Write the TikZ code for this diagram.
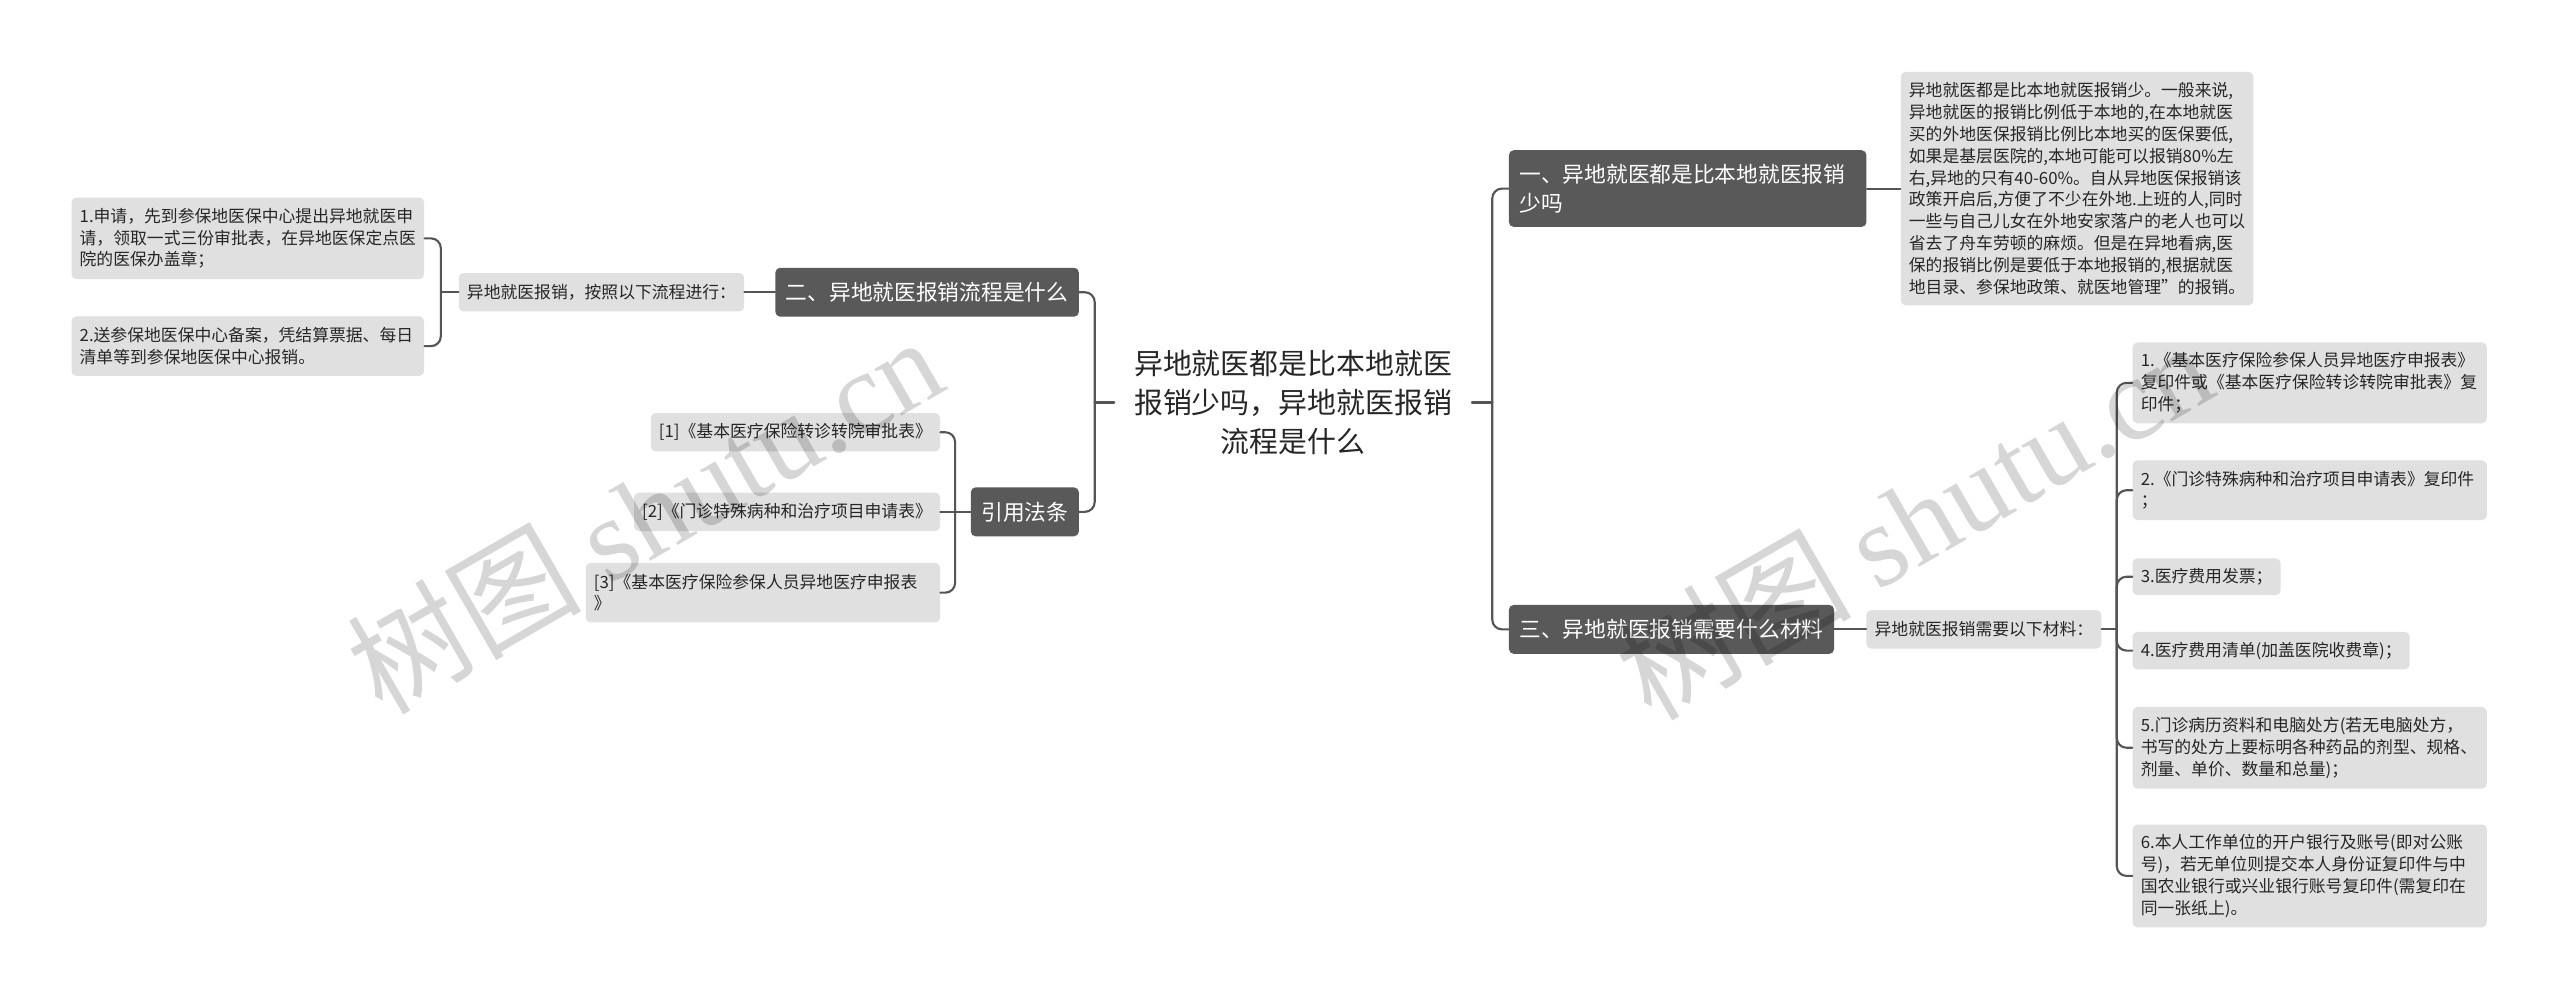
\documentclass[tikz,border=0pt]{standalone}
\usepackage{fontspec}
\setmainfont{Noto Sans CJK SC}
\newfontfamily\wmserif{Liberation Serif}
\definecolor{darkbox}{HTML}{595959}
\definecolor{lightbox}{HTML}{E0E0E0}
\definecolor{linec}{HTML}{555555}
\definecolor{textc}{HTML}{262626}
\tikzset{
  conn/.style={draw=linec, line width=1.3pt, line cap=round},
  rc/.style={rounded corners=6pt},
  dbox/.style={fill=darkbox, text=white, rounded corners=3pt,
    font=\fontsize{13.3}{17.8}\selectfont, inner xsep=6.5pt, inner ysep=0pt, align=left},
  lbox/.style={fill=lightbox, text=textc, rounded corners=3pt,
    font=\fontsize{10.3}{13.4}\selectfont, inner xsep=5pt, inner ysep=0pt, align=left},
  ctrtext/.style={text=textc, font=\fontsize{17.7}{23.7}\selectfont, align=center, inner xsep=12pt},
  wm/.style={text=black, opacity=0.16, rotate=30, inner sep=0pt}
}
\begin{document}
\begin{tikzpicture}[x=1pt,y=-1pt]
\fill[white] (0,0) rectangle (1568,613);
\useasboundingbox (0,0) rectangle (1568,613);

% center
\node[ctrtext] (ctr) at (792,246.5) {异地就医都是比本地就医\\报销少吗，异地就医报销\\流程是什么};

% right level 1
\node[dbox, anchor=west, text width=206pt, minimum height=47pt] (b1) at (924,115.5)
  {一、异地就医都是比本地就医报销\\少吗};
\node[dbox, anchor=west, minimum height=30pt] (b3) at (924,385.5)
  {三、异地就医报销需要什么材料};

% left level 1
\node[dbox, anchor=east, minimum height=30pt] (b2) at (661,179)
  {二、异地就医报销流程是什么};
\node[dbox, anchor=east, minimum height=30pt] (yy) at (661,313.5)
  {引用法条};

% text box
\node[lbox, anchor=west, text width=206pt, minimum height=143pt] (tb) at (1164,115.5)
  {异地就医都是比本地就医报销少。一般来说,\\
   异地就医的报销比例低于本地的,在本地就医\\
   买的外地医保报销比例比本地买的医保要低,\\
   如果是基层医院的,本地可能可以报销80\%左\\
   右,异地的只有40-60\%。自从异地医保报销该\\
   政策开启后,方便了不少在外地.上班的人,同时\\
   一些与自己儿女在外地安家落户的老人也可以\\
   省去了舟车劳顿的麻烦。但是在异地看病,医\\
   保的报销比例是要低于本地报销的,根据就医\\
   地目录、参保地政策、就医地管理”的报销。};

% materials
\node[lbox, anchor=west, minimum height=23.5pt] (m2) at (1143,385.5) {异地就医报销需要以下材料：};
\node[lbox, anchor=west, text width=207pt, minimum height=49.5pt] (i1) at (1306,234.5)
  {1.《基本医疗保险参保人员异地医疗申报表》\\复印件或《基本医疗保险转诊转院审批表》复\\印件；};
\node[lbox, anchor=west, text width=207pt, minimum height=36.5pt] (i2) at (1306,300.25)
  {2.《门诊特殊病种和治疗项目申请表》复印件\\；};
\node[lbox, anchor=west, minimum height=22.5pt] (i3) at (1306,353.25) {3.医疗费用发票；};
\node[lbox, anchor=west, minimum height=23pt] (i4) at (1306,398.5) {4.医疗费用清单(加盖医院收费章)；};
\node[lbox, anchor=west, text width=207pt, minimum height=50pt] (i5) at (1306,458)
  {5.门诊病历资料和电脑处方(若无电脑处方，\\书写的处方上要标明各种药品的剂型、规格、\\剂量、单价、数量和总量)；};
\node[lbox, anchor=west, text width=207pt, minimum height=63pt] (i6) at (1306,536.5)
  {6.本人工作单位的开户银行及账号(即对公账\\号)，若无单位则提交本人身份证复印件与中\\国农业银行或兴业银行账号复印件(需复印在\\同一张纸上)。};

% left process
\node[lbox, anchor=east, minimum height=23.5pt] (m1) at (456,179) {异地就医报销，按照以下流程进行：};
\node[lbox, anchor=east, text width=206pt, minimum height=50pt] (l1) at (260,146)
  {1.申请，先到参保地医保中心提出异地就医申\\请，领取一式三份审批表，在异地医保定点医\\院的医保办盖章；};
\node[lbox, anchor=east, text width=206pt, minimum height=36.5pt] (l2) at (260,212)
  {2.送参保地医保中心备案，凭结算票据、每日\\清单等到参保地医保中心报销。};

% references
\node[lbox, anchor=east, minimum height=23.5pt] (r1) at (576,264.75) {[1]《基本医疗保险转诊转院审批表》};
\node[lbox, anchor=east, minimum height=23.5pt] (r2) at (576,313.5) {[2]《门诊特殊病种和治疗项目申请表》};
\node[lbox, anchor=east, text width=207pt, minimum height=36.5pt] (r3) at (576,363)
  {[3]《基本医疗保险参保人员异地医疗申报表\\》};

% trunk points
\coordinate (tR) at (914,246.5);
\coordinate (tL) at (670.5,246.5);
\coordinate (tLL) at (270,179);
\coordinate (tRef) at (585,313.5);
\coordinate (tItems) at (1296.5,385.5);

% connectors
\draw[conn] (ctr.east) -- (tR);
\draw[conn, rc] (tR) |- (b1.west);
\draw[conn, rc] (tR) |- (b3.west);
\draw[conn] (ctr.west) -- (tL);
\draw[conn, rc] (tL) |- (b2.east);
\draw[conn, rc] (tL) |- (yy.east);
\draw[conn] (b1.east) -- (tb.west);
\draw[conn] (b2.west) -- (m1.east);
\draw[conn] (m1.west) -- (tLL);
\draw[conn, rc] (tLL) |- (l1.east);
\draw[conn, rc] (tLL) |- (l2.east);
\draw[conn] (yy.west) -- (tRef);
\draw[conn, rc] (tRef) |- (r1.east);
\draw[conn] (tRef) -- (r2.east);
\draw[conn, rc] (tRef) |- (r3.east);
\draw[conn] (b3.east) -- (m2.west);
\draw[conn] (m2.east) -- (tItems);
\foreach \i in {i1,i2,i3,i4,i5,i6} {
  \draw[conn, rc] (tItems) |- (\i.west);
}

% watermarks
\node[wm, font=\fontsize{72}{72}\selectfont] (wm1) at (394.5,314.5) {树图 {\wmserif shutu.cn}};
\node[wm, font=\fontsize{72}{72}\selectfont] (wm2) at (1172,318) {树图 {\wmserif shutu.cn}};
\end{tikzpicture}
\end{document}
